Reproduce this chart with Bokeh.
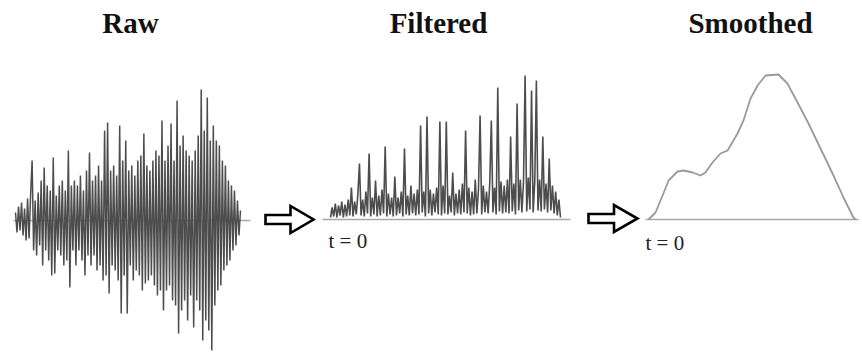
import numpy as np
from bokeh.plotting import figure
from bokeh.models import Range1d
from bokeh.embed import file_html
from bokeh.resources import INLINE
from bokeh.core.properties import value

# ---------------- data ----------------
panel_titles = ["Raw", "Filtered", "Smoothed"]
t0_label = "t = 0"

# raw EMG-like signal (amplitude, evenly sampled)
raw_amp = [
    8, -12, 14, -10, 18, -15, 12, -20, 22, -18,
    25, 60, -30, 20, -35, 28, -25, 40, -45, 53,
    -30, 35, -40, 30, -55, 63, -53, 25, -30, 35,
    -35, 40, -45, 30, -40, 70, -67, 35, -30, 40,
    -45, 35, -30, 45, -40, 30, -55, 50, -35, 68,
    -45, 40, -35, 45, -50, 55, -45, 40, -60, 90,
    -55, 98, -73, 50, -45, 55, -50, 45, -60, 95,
    -93, 60, -55, 80, -93, 50, -45, 55, -60, 45,
    -50, 60, -55, 65, -70, 87, -63, 55, -60, 50,
    -55, 60, -65, 70, -75, 65, -70, 100, -90, 60,
    -70, 75, -65, 97, -80, 60, -85, 120, -113, 75,
    -90, 85, -80, 70, -100, 65, -75, 60, -107, 70,
    -80, 85, -90, 131, -120, 90, -100, 123, -110, 80,
    -130, 95, -85, 80, -70, 75, -65, 60, -50, 55,
    -45, 40, -40, 35, -30, 30, -25, 20, -15, 10,
]

# rectified / filtered signal (amplitude, evenly sampled)
filtered_amp = [
    2, 12, 3, 16, 2, 14, 4, 18, 2, 15,
    3, 20, 4, 32, 3, 18, 5, 25, 56, 4,
    20, 3, 28, 6, 66, 3, 22, 5, 39, 3,
    24, 4, 30, 6, 73, 3, 26, 5, 22, 3,
    43, 4, 22, 6, 28, 3, 71, 5, 24, 4,
    34, 6, 26, 4, 30, 5, 94, 7, 28, 3,
    103, 6, 30, 4, 26, 7, 32, 5, 98, 4,
    34, 6, 98, 5, 24, 7, 47, 4, 26, 6,
    30, 5, 36, 7, 89, 6, 32, 4, 28, 5,
    40, 6, 30, 104, 5, 34, 7, 28, 6, 36,
    99, 7, 32, 5, 132, 8, 38, 6, 34, 7,
    40, 6, 83, 8, 36, 5, 116, 9, 40, 7,
    38, 144, 8, 42, 10, 129, 7, 38, 139, 9,
    40, 8, 83, 10, 36, 7, 61, 9, 34, 6,
    28, 4, 20, 2,
]

# smoothed envelope (time in % of record, amplitude)
smooth_time = [0, 3.4, 6.8, 9.7, 14.0, 16.9, 21.3, 25.1, 27.5, 30.9, 34.8,
               38.2, 43.0, 45.9, 49.3, 52.7, 56.5, 62.8, 67.1, 72.0, 77.3,
               83.1, 88.9, 94.2, 99.0, 100]
smooth_amp = [0, 7, 24, 39, 48, 49, 47, 44, 47, 57, 66,
              69, 86, 99, 121, 134, 144, 145, 136, 117, 96,
              71, 46, 22, 2, 0]

# ---------------- layout (canvas pixels) ----------------
W, H = 862, 354

p = figure(width=W, height=H, output_backend="svg", toolbar_location=None,
           x_range=Range1d(0, W), y_range=Range1d(H, 0),
           x_axis_location=None, y_axis_location=None, min_border=0)
p.grid.visible = False
p.outline_line_color = None
p.background_fill_color = "white"
p.border_fill_color = "white"

# panel geometry (canvas coordinates)
RAW = dict(x0=15, x1=240, base=220, line=(13, 250))
FIL = dict(x0=330, x1=560, base=219, line=(322, 570))
SMO = dict(x0=648, x1=855, base=219, line=(645, 858))

base_col = "#a8a8a8"
for g in (RAW, FIL, SMO):
    p.line(list(g["line"]), [g["base"], g["base"]], line_color=base_col, line_width=1.6)

# raw
n = len(raw_amp)
rx = RAW["x0"] + np.arange(n) * (RAW["x1"] - RAW["x0"]) / (n - 1)
ry = RAW["base"] - np.asarray(raw_amp, dtype=float)
p.line(rx, ry, line_color="#4d4d4d", line_width=1.5)

# filtered
n = len(filtered_amp)
fx = FIL["x0"] + np.arange(n) * (FIL["x1"] - FIL["x0"]) / (n - 1)
fy = FIL["base"] - np.asarray(filtered_amp, dtype=float)
p.line(fx, fy, line_color="#4d4d4d", line_width=1.6)

# smoothed
sx = SMO["x0"] + np.asarray(smooth_time) / 100.0 * (SMO["x1"] - SMO["x0"])
sy = SMO["base"] - np.asarray(smooth_amp, dtype=float)
p.line(sx, sy, line_color="#9a9a9a", line_width=1.8, line_join="round")

# block arrows (shape in local units, placed by layout)
arrow_dx = [0, 25, 25, 48, 25, 25, 0]
arrow_dy = [-4.5, -4.5, -13.5, 0, 13.5, 4.5, 4.5]
for ax, ay, sc in ((265, 219, 1.0), (588, 218, 1.02)):
    xs = [ax + d * sc for d in arrow_dx]
    ys = [ay + d for d in arrow_dy]
    p.patch(xs, ys, fill_color="white", line_color="black", line_width=2.6,
            line_join="miter")

# titles
p.text(x=[130, 438, 750], y=[22, 22, 22], text=panel_titles,
       text_font=value("Liberation Serif"), text_font_style="bold",
       text_font_size="29px", text_align="center", text_baseline="alphabetic",
       text_color="#111111")

# t = 0 labels
p.text(x=[328, 645], y=[240, 242], text=[t0_label, t0_label],
       text_font=value("Liberation Serif"), text_font_size="21px",
       text_align="left", text_baseline="alphabetic", text_color="#222222")

open("out.html", "w").write(file_html(p, INLINE))
